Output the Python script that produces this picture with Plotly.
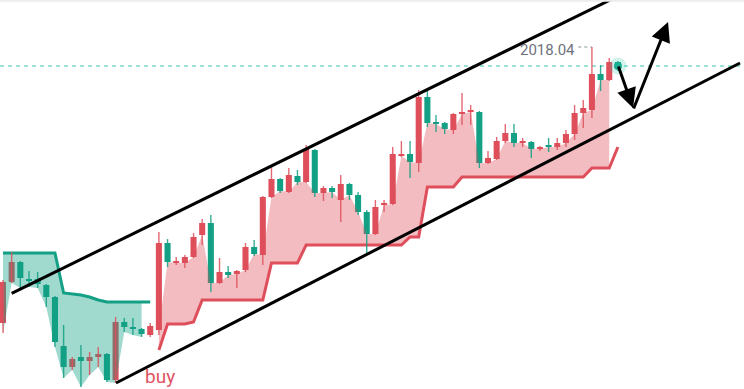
import plotly.graph_objects as go

# ---------------- data ----------------
open_ = [1962.84, 1971.04, 1975.04, 1971.64, 1971.64, 1970.44, 1968.04, 1958.24, 1954.04, 1956.04,
         1955.24, 1956.04, 1956.64, 1951.44, 1963.04, 1962.04, 1961.64, 1960.44, 1961.44, 1978.84,
         1974.84, 1974.84, 1976.04, 1980.44, 1982.84, 1970.84, 1973.04, 1972.64, 1973.44, 1978.04,
         1976.44, 1988.04, 1991.64, 1989.04, 1992.24, 1991.04, 1997.44, 1988.84, 1989.84, 1987.44,
         1990.64, 1988.44, 1985.04, 1980.64, 1986.44, 1986.64, 1996.24, 1996.64, 1994.84, 2008.04,
         2003.04, 2002.84, 2001.44, 2004.64, 2005.04, 2005.04, 1994.84, 1995.64, 1999.24, 2000.84,
         1998.84, 1999.04, 1997.64, 1998.44, 1998.04, 1998.84, 2000.64, 2004.84, 2005.44, 2012.64,
         2011.44, 2015.04]
high = [1971.44, 1977.04, 1975.24, 1973.24, 1973.04, 1970.64, 1968.24, 1962.44, 1956.04, 1958.44,
        1957.04, 1958.04, 1956.84, 1964.04, 1963.84, 1963.84, 1961.84, 1962.84, 1981.04, 1979.64,
        1976.04, 1976.44, 1980.84, 1983.64, 1984.44, 1975.84, 1974.24, 1973.44, 1978.84, 1979.44,
        1988.24, 1994.44, 1991.84, 1993.84, 1993.44, 1998.44, 1997.64, 1990.24, 1990.24, 1992.44,
        1990.84, 1989.04, 1985.44, 1987.44, 1987.44, 1998.04, 1999.24, 1999.24, 2009.44, 2009.84,
        2004.44, 2003.04, 2004.84, 2008.84, 2006.44, 2005.24, 1997.24, 2000.04, 2002.64, 2002.64,
        1999.84, 1999.24, 1998.24, 1999.84, 1999.84, 2001.44, 2006.44, 2007.44, 2018.04, 2014.44,
        2015.84, 2015.24]
low = [1960.84, 1970.84, 1969.84, 1970.04, 1969.84, 1966.04, 1958.04, 1951.84, 1953.44, 1950.04,
       1952.44, 1954.04, 1951.04, 1950.84, 1961.04, 1960.44, 1960.04, 1960.04, 1960.44, 1974.04,
       1974.44, 1973.84, 1975.84, 1978.44, 1969.04, 1970.64, 1971.84, 1969.84, 1973.04, 1976.24,
       1974.44, 1987.84, 1988.84, 1988.84, 1990.44, 1990.84, 1988.04, 1987.24, 1987.84, 1983.04,
       1987.44, 1984.44, 1976.84, 1980.44, 1985.04, 1986.44, 1996.04, 1991.84, 1993.04, 2002.04,
       2001.04, 2000.64, 2000.64, 2002.44, 2002.44, 1993.84, 1994.64, 1995.44, 1998.84, 1998.04,
       1998.04, 1995.84, 1997.24, 1997.04, 1997.44, 1998.04, 1999.44, 2001.84, 2003.84, 2009.24,
       2011.24, 2013.24]
close = [1971.04, 1975.04, 1971.84, 1971.24, 1970.64, 1968.04, 1959.04, 1954.04, 1955.64, 1955.24,
         1956.04, 1956.64, 1951.44, 1963.04, 1962.04, 1961.64, 1960.64, 1962.24, 1978.84, 1975.04,
         1975.24, 1976.04, 1980.04, 1982.84, 1970.84, 1973.04, 1972.44, 1973.24, 1978.04, 1976.64,
         1988.04, 1991.64, 1989.24, 1992.44, 1991.04, 1997.64, 1988.84, 1989.84, 1989.04, 1990.64,
         1988.44, 1985.04, 1980.64, 1986.04, 1986.84, 1996.64, 1996.64, 1995.04, 2008.04, 2002.84,
         2002.64, 2001.64, 2004.64, 2005.04, 2005.44, 1994.84, 1995.84, 1999.24, 2000.84, 1998.84,
         1999.24, 1997.64, 1998.04, 1998.04, 1998.84, 2000.64, 2004.84, 2005.84, 2012.64, 2011.44,
         2015.04, 2014.24]
supertrend = [1976.84, 1976.84, 1976.84, 1976.84, 1976.84, 1976.84, 1976.84, 1968.84, 1968.64, 1968.44,
              1968.04, 1967.44, 1967.04, 1967.04, 1967.04, 1967.04, 1967.04, 1967.04, 1957.44, 1962.64,
              1962.64, 1962.64, 1963.04, 1967.44, 1967.44, 1967.44, 1967.44, 1967.44, 1967.44, 1967.44,
              1967.44, 1974.84, 1974.84, 1974.84, 1974.84, 1978.44, 1978.44, 1978.44, 1978.44, 1978.44,
              1978.44, 1978.44, 1978.44, 1978.44, 1978.44, 1978.44, 1978.44, 1980.04, 1980.04, 1990.04,
              1990.04, 1990.04, 1990.04, 1992.04, 1992.04, 1992.04, 1992.04, 1992.04, 1992.04, 1992.04,
              1992.04, 1992.04, 1992.04, 1992.04, 1992.04, 1992.04, 1992.04, 1992.04, 1993.84, 1993.84,
              1993.84, 1998.04]

high_label = "2018.04"
buy_label = "buy"

# hand-drawn objects (data coordinates: bar index, price)
upper_channel = ((1.0, 1968.78), (71.0, 2028.21))
lower_channel = ((13.05, 1950.84), (85.1, 2014.84))
arrow_down = ((71.0, 2014.44), (72.75, 2005.84))   # tail -> head
arrow_up = ((72.75, 2005.44), (76.79, 2023.04))    # tail -> head
buy_pos = (16.17, 1952.24)
label_pos = (66.28, 2017.44)

# ---------------- styling ----------------
RED = '#de4f5b'
GREEN = '#13a085'
RED_FILL = 'rgba(222,80,92,0.38)'
GREEN_FILL = 'rgba(18,160,133,0.40)'

n = len(close)
idx = list(range(n))
is_up = [c >= o for o, c in zip(open_, close)]
body_lo = [min(o, c) for o, c in zip(open_, close)]
body_h = [max(abs(c - o), 0.35) for o, c in zip(open_, close)]
trend = [1 if c > s else -1 for c, s in zip(close, supertrend)]

fig = go.Figure()

# segments of constant trend
segments = []
start = 0
for i in range(1, n + 1):
    if i == n or trend[i] != trend[start]:
        segments.append((start, i - 1, trend[start]))
        start = i

# fills (behind everything)
for s, e, t in segments:
    xs = idx[s:e]
    if len(xs) < 1:
        continue
    edge = [low[i] if t < 0 else body_lo[i] for i in xs]
    fig.add_trace(go.Scatter(x=xs, y=[supertrend[i] for i in xs], mode='lines',
                             line=dict(width=0), hoverinfo='skip', showlegend=False))
    fig.add_trace(go.Scatter(x=xs, y=edge, mode='lines', line=dict(width=0),
                             fill='tonexty', fillcolor=GREEN_FILL if t < 0 else RED_FILL,
                             hoverinfo='skip', showlegend=False))

# supertrend lines
for s, e, t in segments:
    xs = idx[s:e + 1]
    fig.add_trace(go.Scatter(x=xs, y=[supertrend[i] for i in xs], mode='lines',
                             line=dict(width=3, color=GREEN if t < 0 else RED),
                             hoverinfo='skip', showlegend=False))

# wicks
for up_flag, col in ((True, RED), (False, GREEN)):
    wx, wy = [], []
    for i in idx:
        if is_up[i] == up_flag:
            wx += [i, i, None]
            wy += [low[i], high[i], None]
    fig.add_trace(go.Scatter(x=wx, y=wy, mode='lines', line=dict(width=1.4, color=col),
                             opacity=0.85, hoverinfo='skip', showlegend=False))

# bodies
fig.add_trace(go.Bar(x=idx, y=body_h, base=body_lo, width=0.7,
                     marker=dict(color=[RED if u else GREEN for u in is_up], line=dict(width=0)),
                     hoverinfo='skip', showlegend=False))

# last price glow dot
fig.add_trace(go.Scatter(x=[idx[-1]], y=[close[-1]], mode='markers',
                         marker=dict(size=17, color='rgba(40,200,170,0.22)'),
                         hoverinfo='skip', showlegend=False))
fig.add_trace(go.Scatter(x=[idx[-1]], y=[close[-1]], mode='markers',
                         marker=dict(size=8, color='#1aae92'),
                         hoverinfo='skip', showlegend=False))

shapes = [
    dict(type='line', xref='paper', x0=0, x1=1, yref='y', y0=close[-1], y1=close[-1],
         line=dict(color='#3cc5ad', width=1, dash='4px,4px'), layer='below'),
    dict(type='line', xref='x', yref='y', x0=upper_channel[0][0], y0=upper_channel[0][1],
         x1=upper_channel[1][0], y1=upper_channel[1][1], line=dict(color='black', width=3)),
    dict(type='line', xref='x', yref='y', x0=lower_channel[0][0], y0=lower_channel[0][1],
         x1=lower_channel[1][0], y1=lower_channel[1][1], line=dict(color='black', width=3)),
    dict(type='line', xref='x', yref='y', x0=label_pos[0] + 0.15, x1=68, y0=high[68], y1=high[68],
         line=dict(color='#8a8d96', width=1, dash='dot')),
    dict(type='line', xref='paper', yref='paper', x0=0, x1=1, y0=0.998, y1=0.998,
         line=dict(color='#ececf1', width=2)),
]

annotations = [
    dict(x=label_pos[0], y=label_pos[1], xref='x', yref='y', text=high_label, showarrow=False,
         xanchor='right', yanchor='middle', font=dict(family='Roboto, Arial', size=15, color='#6e717c')),
    dict(x=buy_pos[0], y=buy_pos[1], xref='x', yref='y', text=buy_label, showarrow=False,
         xanchor='left', yanchor='middle', font=dict(family='Roboto, Arial', size=19, color='#e05563')),
]
for tail, head in (arrow_down, arrow_up):
    annotations.append(dict(x=head[0], y=head[1], ax=tail[0], ay=tail[1], xref='x', yref='y',
                            axref='x', ayref='y', text='', showarrow=True, arrowhead=2,
                            arrowsize=1.3, arrowwidth=3, arrowcolor='black', standoff=0))

fig.update_layout(
    width=744, height=389, margin=dict(l=0, r=0, t=0, b=0),
    paper_bgcolor='white', plot_bgcolor='white', showlegend=False,
    barmode='overlay', shapes=shapes, annotations=annotations,
    xaxis=dict(visible=False, range=[-0.346, 85.56], fixedrange=True),
    yaxis=dict(visible=False, range=[1949.64, 2027.44], fixedrange=True),
)

fig.write_html("out.html", config={'displayModeBar': False},
               post_script="document.body.style.margin='0';")
